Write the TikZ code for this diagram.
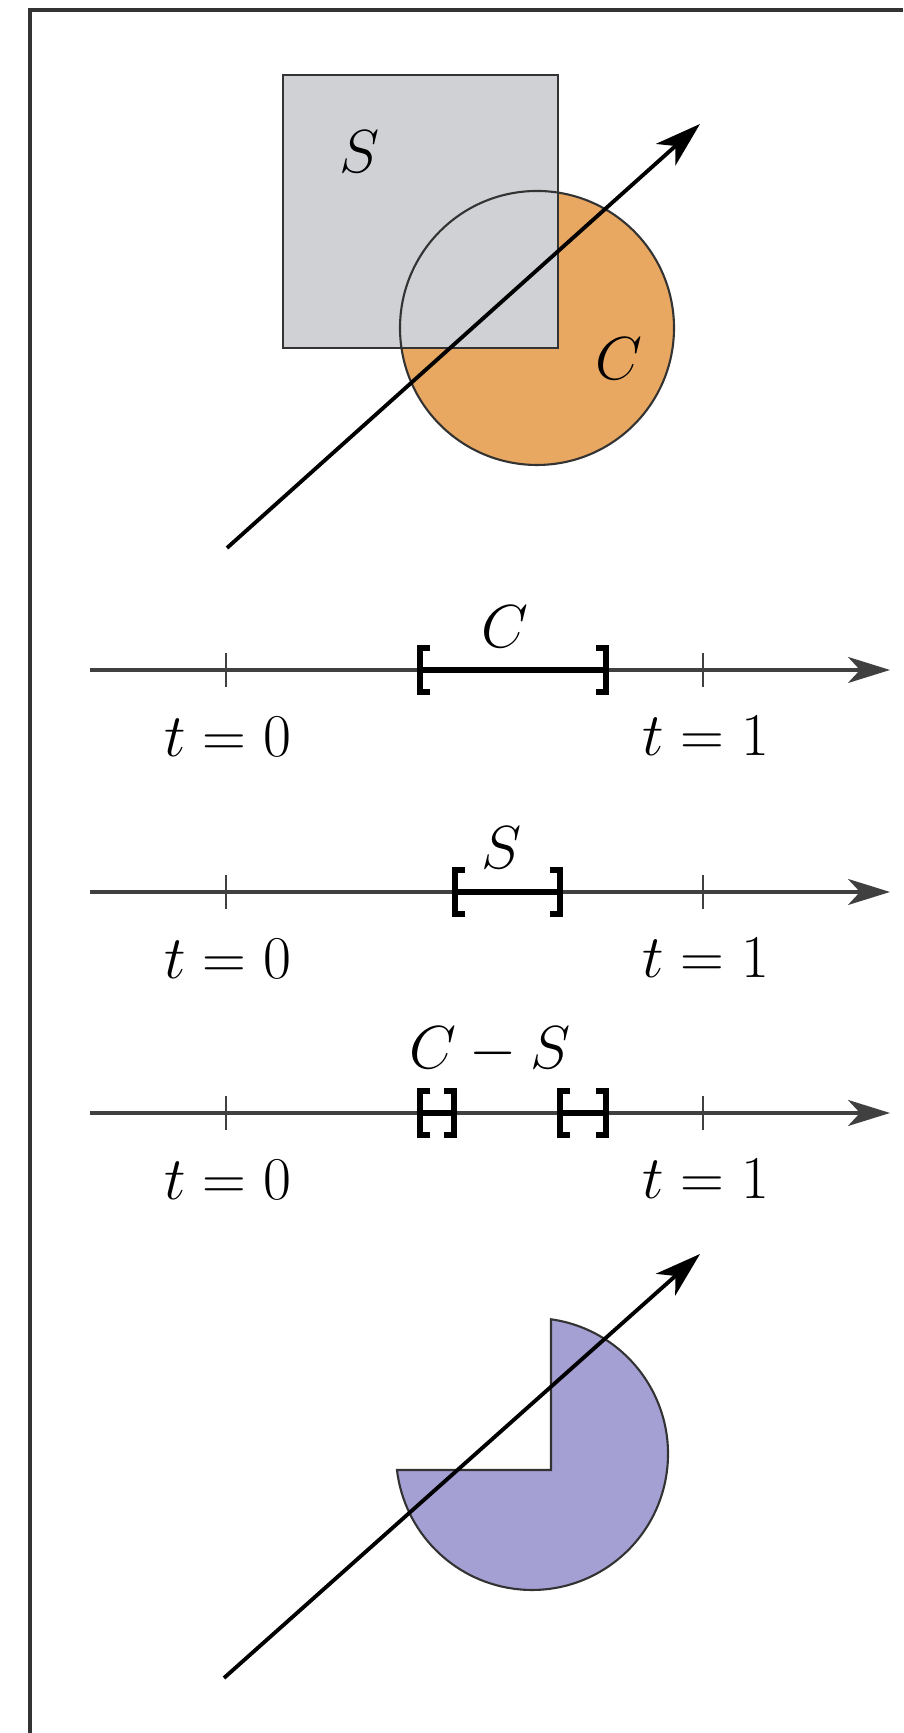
\documentclass[tikz,border=0pt]{standalone}
\usepackage{amsmath}
\usepackage{tikz}
\usetikzlibrary{arrows.meta}
\definecolor{rectfill}{HTML}{CFD1D4}
\definecolor{discfill}{HTML}{E8A862}
\definecolor{difffill}{HTML}{A5A0D4}
\definecolor{edge}{HTML}{333333}

% interval on a number line: #1 = left, #2 = right, #3 = height of the line
\newcommand{\tspan}[3]{%
  \draw[ivlbar] (#1,#3) -- (#2,#3);
  \draw[brack] (#1,#3) ++(0.1,0.22) -- ++(-0.1,0) -- ++(0,-0.44) -- ++(0.1,0);
  \draw[brack] (#2,#3) ++(-0.1,0.22) -- ++(0.1,0) -- ++(0,-0.44) -- ++(-0.1,0);
}

\begin{document}
\begin{tikzpicture}[>=Stealth,
  every node/.style={inner sep=0pt, font=\fontsize{17}{20}\selectfont},
  outline/.style={draw=edge, line width=0.6pt},
  ray/.style={line width=1.1pt, -{Stealth[length=4.6mm, width=2.9mm, inset=1.3mm]}},
  numline/.style={draw=black!75, line width=1pt, -{Stealth[length=4.2mm, width=2.6mm, inset=1.2mm]}},
  tickmark/.style={black!75, line width=0.8pt},
  ivlbar/.style={line width=1.7pt},
  brack/.style={line width=1.6pt}]
  \useasboundingbox (0,0) rectangle (9.03,17.33);
  \draw[edge, line width=0.9pt] (0.30,0) -- (0.30,17.23) -- (9.03,17.23);

  % C and S, with the ray
  \fill[discfill] (5.37,14.05) circle (1.37);
  \filldraw[outline, fill=rectfill] (2.83,13.85) rectangle (5.58,16.58);
  \draw[outline] (5.37,14.05) circle (1.37);
  \node (lblS) at (3.60,15.81) {$S$};
  \node (lblC) at (6.19,13.74) {$C$};
  \coordinate (in1) at (2.27,11.85);
  \coordinate (out1) at (7.00,16.09);
  \draw[ray] (in1) -- (out1);

  % parameter lines
  \foreach \y/\n in {10.63/1, 8.41/2, 6.20/3} {
    \draw[numline] (0.90,\y) -- (8.90,\y);
    \draw[tickmark] (2.26,\y-0.17) -- (2.26,\y+0.17);
    \draw[tickmark] (7.03,\y-0.17) -- (7.03,\y+0.17);
    \node (zero\n) at (2.28,\y-0.67) {$t = 0$};
    \node (one\n) at (7.06,\y-0.66) {$t = 1$};
  }
  \tspan{4.20}{6.06}{10.63}
  \node (spanC) at (5.05,11.06) {$C$};
  \tspan{4.55}{5.60}{8.41}
  \node (spanS) at (5.02,8.85) {$S$};
  \tspan{4.20}{4.54}{6.20}
  \tspan{5.60}{6.06}{6.20}
  \node (spanCS) at (4.90,6.83) {$C - S$};

  % C - S, with the ray
  \filldraw[outline, fill=difffill] (5.51,2.63) -- (5.51,4.137)
    arc[start angle=81.97, end angle=-173.24, radius=1.36] -- cycle;
  \coordinate (in2) at (2.24,0.55);
  \coordinate (out2) at (7.00,4.79);
  \draw[ray] (in2) -- (out2);
\end{tikzpicture}
\end{document}
